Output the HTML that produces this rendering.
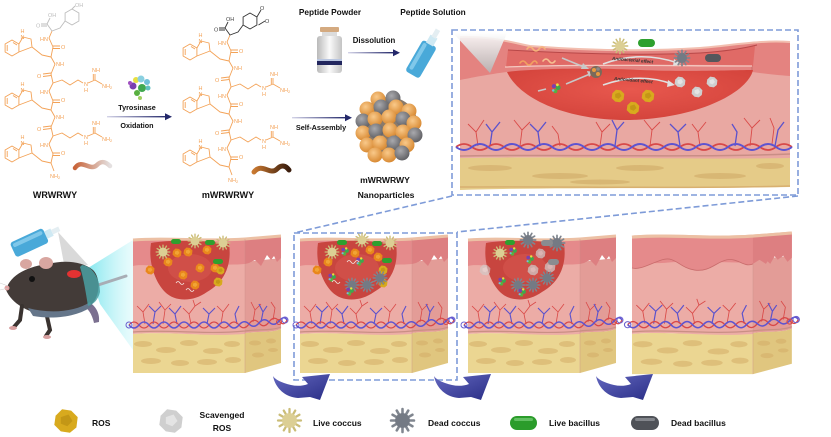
<!DOCTYPE html>
<html><head><meta charset="utf-8">
<style>
html,body{margin:0;padding:0;background:#fff;}
svg{display:block;}
text{font-family:"Liberation Sans",Arial,sans-serif;}
.b{font-weight:bold;fill:#111;}
.o{fill:#f3a257;font-size:5.5px;}
.k{fill:#444;font-size:5.5px;}
.g{fill:#bdbdbd;font-size:5.5px;}
</style></head><body>
<svg width="831" height="437" viewBox="0 0 831 437" xmlns="http://www.w3.org/2000/svg">
<defs>
 <linearGradient id="arr" x1="0" x2="1"><stop offset="0" stop-color="#d4d4e8"/><stop offset="1" stop-color="#23286a"/></linearGradient>
 <radialGradient id="og" cx=".4" cy=".35" r=".7"><stop offset="0" stop-color="#f9c98a"/><stop offset="1" stop-color="#d6852c"/></radialGradient>
 <radialGradient id="gg" cx=".4" cy=".35" r=".7"><stop offset="0" stop-color="#a9a9ad"/><stop offset="1" stop-color="#5c5c60"/></radialGradient>
 <linearGradient id="vial" x1="0" x2="1"><stop offset="0" stop-color="#b9b9b9"/><stop offset=".5" stop-color="#fafafa"/><stop offset="1" stop-color="#c4c4c4"/></linearGradient>
 <linearGradient id="cy" x1="0" x2="1"><stop offset="0" stop-color="#7fe6ee" stop-opacity=".95"/><stop offset="1" stop-color="#d4f8fa" stop-opacity=".5"/></linearGradient>
 <linearGradient id="ba" x1="0" y1="0" x2="1" y2="1"><stop offset="0" stop-color="#6468c0"/><stop offset="1" stop-color="#2a2e86"/></linearGradient>
 <linearGradient id="cone" x1="0" y1="0" x2="0" y2="1"><stop offset="0" stop-color="#ffffff"/><stop offset="1" stop-color="#b4b4b4"/></linearGradient>
 <radialGradient id="wnd" cx=".5" cy=".4" r=".6"><stop offset="0" stop-color="#e8584e"/><stop offset="1" stop-color="#d4443c"/></radialGradient>
 <linearGradient id="w1" x1="0" x2="1"><stop offset="0" stop-color="#c8643a"/><stop offset="1" stop-color="#e4e0e0"/></linearGradient>
 <linearGradient id="w2" x1="0" x2="1"><stop offset="0" stop-color="#c87830"/><stop offset="1" stop-color="#3a1c0c"/></linearGradient>

 <symbol id="lc" viewBox="-10 -10 20 20"><g stroke="#cbbd78" stroke-width="1.7" stroke-linecap="round"><line x1="0" y1="-8.5" x2="0" y2="8.5"/><line x1="4.25" y1="-7.36" x2="-4.25" y2="7.36"/><line x1="7.36" y1="-4.25" x2="-7.36" y2="4.25"/><line x1="8.5" y1="0" x2="-8.5" y2="0"/><line x1="7.36" y1="4.25" x2="-7.36" y2="-4.25"/><line x1="4.25" y1="7.36" x2="-4.25" y2="-7.36"/></g><circle r="5.5" fill="#dccf94"/></symbol>
 <symbol id="dc" viewBox="-10 -10 20 20"><g stroke="#80868f" stroke-width="1.9" stroke-linecap="round"><line x1="0" y1="-8.5" x2="0" y2="8.5"/><line x1="4.25" y1="-7.36" x2="-4.25" y2="7.36"/><line x1="7.36" y1="-4.25" x2="-7.36" y2="4.25"/><line x1="8.5" y1="0" x2="-8.5" y2="0"/><line x1="7.36" y1="4.25" x2="-7.36" y2="-4.25"/><line x1="4.25" y1="7.36" x2="-4.25" y2="-7.36"/></g><circle r="5.5" fill="#747a84"/></symbol>
 <symbol id="ros" viewBox="-10 -10 20 20"><path d="M-8,-4 L-3,-9 L4,-8 L9,-3 L8,5 L3,9 L-4,8 L-9,3 Z" fill="#d8aa1e"/><path d="M-4,-3 L2,-5 L5,0 L1,4 L-4,2 Z" fill="#b58a10" opacity=".6"/></symbol>
 <symbol id="ro" viewBox="-10 -10 20 20"><path d="M-8,-4 L-3,-9 L4,-8 L9,-3 L8,5 L3,9 L-4,8 L-9,3 Z" fill="#e9871c"/><path d="M-4,-3 L2,-5 L5,0 L1,4 L-4,2 Z" fill="#f4b040" opacity=".7"/></symbol>
 <symbol id="sr" viewBox="-10 -10 20 20"><path d="M-8,-4 L-3,-9 L4,-8 L9,-3 L8,5 L3,9 L-4,8 L-9,3 Z" fill="#cfcfcf"/><path d="M-4,-3 L2,-5 L5,0 L1,4 L-4,2 Z" fill="#e8e8e8" opacity=".8"/></symbol>
 <symbol id="ez" viewBox="-10 -10 20 20"><circle cx="-3" cy="-4" r="3" fill="#7a40b0"/><circle cx="3" cy="-2" r="3.5" fill="#3da84e"/><circle cx="-1" cy="3" r="3" fill="#58b040"/><circle cx="2" cy="-6" r="2" fill="#e8e040"/><circle cx="-4" cy="2" r="1.8" fill="#70c0d8"/></symbol>

 <g id="pepl" fill="none" stroke="#f3a257" stroke-width="0.9" stroke-linejoin="round">
  <polyline points="52,31 49,38 53,47 51,57 55,64 51,74 53,83 49,91 53,101 51,110 55,117 51,127 53,136 49,144 53,154 51,163 54,171"/>
  <path d="M53,46 L60,46 M53,48.5 L60,48.5 M51,73 L43,74 M51,75.5 L43,76.5 M53,100 L60,100 M53,102.5 L60,102.5 M51,126 L43,127 M51,128.5 L43,129.5 M53,153 L60,153 M53,155.5 L60,155.5"/>
  <path d="M51,57 L42,55 L32,47 M51,110 L42,108 L32,100 M51,163 L42,161 L32,153"/>
  <path d="M18.9,44 L18.9,52 L12,56 L5.1,52 L5.1,44 L12,40 Z M18.9,44 L23,37 L31,39 L32,47 L18.9,52 M7.2,45 L7.2,51 M13,42.5 L17,45"/>
  <path d="M18.9,97 L18.9,105 L12,109 L5.1,105 L5.1,97 L12,93 Z M18.9,97 L23,90 L31,92 L32,100 L18.9,105 M7.2,98 L7.2,104 M13,95.5 L17,98"/>
  <path d="M18.9,150 L18.9,158 L12,162 L5.1,158 L5.1,150 L12,146 Z M18.9,150 L23,143 L31,145 L32,153 L18.9,158 M7.2,151 L7.2,157 M13,148.5 L17,151"/>
  <path d="M53,83 L62,80 L70,85 L78,80 L83,83 M88,83 L95,80 L95,74 M93.3,80 L93.3,74 M95,80 L102,84"/>
  <path d="M53,136 L62,133 L70,138 L78,133 L83,136 M88,136 L95,133 L95,127 M93.3,133 L93.3,127 M95,133 L102,137"/>
 </g>

 <g id="blk">
  <path d="M0,98 C35,95 70,101 112,97 L112,137 L0,137 Z" fill="#ebd692"/>
  <path d="M112,97 C125,95 138,97 148,93 L148,127 L112,137 Z" fill="#e0c67f"/>
  <g fill="#d4ad68" opacity=".55">
   <ellipse cx="10" cy="108" rx="9" ry="3"/><ellipse cx="33" cy="114" rx="10" ry="3"/><ellipse cx="56" cy="107" rx="9" ry="3"/><ellipse cx="80" cy="115" rx="10" ry="3"/><ellipse cx="99" cy="108" rx="8" ry="3"/><ellipse cx="18" cy="125" rx="10" ry="3"/><ellipse cx="47" cy="127" rx="9" ry="3"/><ellipse cx="74" cy="126" rx="10" ry="3"/><ellipse cx="100" cy="124" rx="8" ry="3"/><ellipse cx="122" cy="107" rx="6" ry="2.5"/><ellipse cx="138" cy="105" rx="5" ry="2.5"/><ellipse cx="125" cy="119" rx="6" ry="2.5"/><ellipse cx="140" cy="114" rx="5" ry="2"/>
  </g>
  <path d="M0,26 L112,26 L112,98 C70,101 35,95 0,98 Z" fill="#ecaca6"/>
  <path d="M112,26 L148,22 L148,93 C138,97 125,95 112,97 Z" fill="#e39c97"/>
  <path d="M0,96 C35,93 70,99 112,95 C125,93 138,95 148,91" fill="none" stroke="#c98f84" stroke-width="1.2"/>
  <path d="M0,4 C35,1 70,6 112,3 L112,28 C90,30 60,26 30,29 C15,30 5,28 0,30 Z" fill="#e58a8b"/>
  <path d="M112,3 L148,0 L148,22 L144,26 L141,20 L138,24 L134,19 L128,30 L122,24 L116,27 L112,28 Z" fill="#dd7f81"/>
  <path d="M0,4 C35,1 70,6 112,3 L148,0" fill="none" stroke="#ecc0a4" stroke-width="3"/>
  <line x1="112" y1="3" x2="112" y2="137" stroke="#c98c88" stroke-width=".6" opacity=".6"/>
  <g fill="none" stroke="#d94a48" stroke-width=".8">
   <path d="M12,88 L10,76 L4,70 M10,76 L16,68 M30,88 L32,74 L26,66 M32,74 L38,68 M58,88 L56,78 L50,72 M56,78 L62,70 L60,64 M62,70 L68,66 M88,88 L90,76 L84,70 M90,76 L96,68 M120,86 L122,74 L118,66 M122,74 L128,68 M140,84 L142,72 L138,66"/>
  </g>
  <g fill="none" stroke="#5b52cc" stroke-width="1.1">
   <path d="M20,88 L22,76 L16,70 M22,76 L28,70 M44,88 L42,78 L48,70 M42,78 L36,72 M74,88 L76,78 L82,72 M76,78 L70,72 M104,88 L102,78 L106,70 M128,86 L130,76 L126,68 M130,76 L134,70"/>
  </g>
  <path d="M-4,89 Q1,83 6,89 T16,89 T26,89 T36,89 T46,89 T56,89 T66,89 T76,89 T86,89 T96,89 T106,89 T116,88 T126,87 T136,86 T146,85 T154,84" fill="none" stroke="#d84848" stroke-width="1.3"/>
  <path d="M-4,89 Q1,95 6,89 T16,89 T26,89 T36,89 T46,89 T56,89 T66,89 T76,89 T86,89 T96,89 T106,89 T116,88 T126,87 T136,86 T146,85 T154,84" fill="none" stroke="#5e54d0" stroke-width="1.5"/>
  <circle cx="-4" cy="89" r="3" fill="none" stroke="#6a5fd0" stroke-width="1"/>
  <circle cx="152" cy="84" r="3" fill="none" stroke="#6a5fd0" stroke-width="1"/>
  <circle cx="146" cy="86" r="2.5" fill="none" stroke="#d84848" stroke-width="1"/>
 </g>

 <path id="wd" d="M18,7 C40,3 80,5 96,8 C99,28 92,46 74,56 C60,66 42,66 32,56 C22,46 15,26 18,7 Z"/>
 <path id="arw" d="M1,3 C3,14 12,24 26,25 L38,24 L48,27 L58,1 L30,4 L36,11 C28,14 20,13 12,10 C6,8 2,5 1,3 Z"/>
</defs>

<!-- ===== chemical structures ===== -->
<g>
 <use href="#pepl"/>
 <path d="M72,9 L78.9,13 L78.9,21 L72,25 L65.1,21 L65.1,13 Z M72,9 L75,6 M65.1,21 L60,28 L52,31 L47,24 L50,18 M47,24 L41,24 M47,26 L41,26" fill="none" stroke="#bdbdbd" stroke-width="0.9"/>
 <text class="g" x="75" y="7">OH</text><text class="g" x="48" y="17">OH</text><text class="g" x="36" y="27.5">O</text>
 <text class="o" x="40" y="41">HN</text><text class="o" x="61" y="49">O</text><text class="o" x="56" y="66">NH</text><text class="o" x="37" y="78">O</text>
 <text class="o" x="84" y="86">N</text><text class="o" x="84" y="92">H</text><text class="o" x="92" y="72">NH</text><text class="o" x="102" y="88">NH<tspan font-size="4" dy="1">2</tspan></text>
 <text class="o" x="40" y="94">HN</text><text class="o" x="61" y="102">O</text><text class="o" x="56" y="119">NH</text><text class="o" x="37" y="131">O</text>
 <text class="o" x="84" y="139">N</text><text class="o" x="84" y="145">H</text><text class="o" x="92" y="125">NH</text><text class="o" x="102" y="141">NH<tspan font-size="4" dy="1">2</tspan></text>
 <text class="o" x="40" y="147">HN</text><text class="o" x="61" y="155">O</text><text class="o" x="50" y="178">NH<tspan font-size="4" dy="1">2</tspan></text>
 <text class="o" x="20.5" y="39">N</text><text class="o" x="20.5" y="33">H</text>
 <text class="o" x="20.5" y="92">N</text><text class="o" x="20.5" y="86">H</text>
 <text class="o" x="20.5" y="145">N</text><text class="o" x="20.5" y="139">H</text>
 <path d="M75,168 C82,158 90,172 97,165 C102,160 106,162 110,166" fill="none" stroke="url(#w1)" stroke-width="4.5" stroke-linecap="round"/>
</g>
<g transform="translate(178,4)">
 <use href="#pepl"/>
 <path d="M72,9 L78.9,13 L78.9,21 L72,25 L65.1,21 L65.1,13 Z M78.9,13 L83,6 M80.5,21 L87,17 M65.1,21 L60,28 L52,31 L47,24 L50,18 M47,24 L41,24 M47,26 L41,26" fill="none" stroke="#333" stroke-width="0.9"/>
 <text class="k" x="82" y="6">O</text><text class="k" x="87" y="19">O</text><text class="k" x="48" y="17">OH</text><text class="k" x="36" y="27.5">O</text>
 <text class="o" x="40" y="41">HN</text><text class="o" x="61" y="49">O</text><text class="o" x="56" y="66">NH</text><text class="o" x="37" y="78">O</text>
 <text class="o" x="84" y="86">N</text><text class="o" x="84" y="92">H</text><text class="o" x="92" y="72">NH</text><text class="o" x="102" y="88">NH<tspan font-size="4" dy="1">2</tspan></text>
 <text class="o" x="40" y="94">HN</text><text class="o" x="61" y="102">O</text><text class="o" x="56" y="119">NH</text><text class="o" x="37" y="131">O</text>
 <text class="o" x="84" y="139">N</text><text class="o" x="84" y="145">H</text><text class="o" x="92" y="125">NH</text><text class="o" x="102" y="141">NH<tspan font-size="4" dy="1">2</tspan></text>
 <text class="o" x="40" y="147">HN</text><text class="o" x="61" y="155">O</text><text class="o" x="50" y="178">NH<tspan font-size="4" dy="1">2</tspan></text>
 <text class="o" x="20.5" y="39">N</text><text class="o" x="20.5" y="33">H</text>
 <text class="o" x="20.5" y="92">N</text><text class="o" x="20.5" y="86">H</text>
 <text class="o" x="20.5" y="145">N</text><text class="o" x="20.5" y="139">H</text>
 <path d="M76,168 C84,158 92,172 99,165 C104,160 108,162 111,166" fill="none" stroke="url(#w2)" stroke-width="5" stroke-linecap="round"/>
</g>
<text class="b" x="55" y="198" font-size="9" text-anchor="middle">WRWRWY</text>
<text class="b" x="228" y="198" font-size="9" text-anchor="middle">mWRWRWY</text>

<!-- enzyme + oxidation arrow -->
<g>
 <circle cx="136" cy="80" r="3" fill="#e8e040"/><circle cx="141" cy="79" r="3.5" fill="#8ad0e0"/><circle cx="147" cy="82" r="3" fill="#70c0d8"/><circle cx="133" cy="86" r="3.5" fill="#7a40b0"/><circle cx="142" cy="88" r="4" fill="#40a850"/><circle cx="148" cy="88" r="2.5" fill="#60c0c0"/><circle cx="137" cy="93" r="3" fill="#58b040"/><circle cx="140" cy="98" r="2" fill="#a0d060"/><circle cx="130" cy="83" r="2" fill="#a050c0"/>
</g>
<text class="b" x="137" y="110" font-size="7.2" text-anchor="middle">Tyrosinase</text>
<text class="b" x="137" y="128" font-size="7.2" text-anchor="middle">Oxidation</text>
<rect x="107" y="116" width="60" height="1.4" fill="url(#arr)"/><path d="M165,113.2 L172,116.7 L165,120.2 Z" fill="#23286a"/>

<!-- powder / solution -->
<text class="b" x="330" y="15" font-size="8.3" text-anchor="middle">Peptide Powder</text>
<text class="b" x="433" y="15" font-size="8.3" text-anchor="middle">Peptide Solution</text>
<rect x="320" y="27" width="19" height="5" rx="1" fill="#d4aa80"/>
<rect x="322" y="32" width="15" height="4" fill="#dcdcdc"/>
<rect x="317" y="36" width="25" height="37" rx="3" fill="url(#vial)"/>
<rect x="317" y="59" width="25" height="2" fill="#b9c6e0"/>
<rect x="317" y="61" width="25" height="4" fill="#22265e"/>
<text class="b" x="374" y="43" font-size="7.8" text-anchor="middle">Dissolution</text>
<rect x="348" y="52" width="46" height="1.4" fill="url(#arr)"/><path d="M393,49.2 L400,52.7 L393,56.2 Z" fill="#23286a"/>
<g transform="translate(424,54) rotate(30)">
 <rect x="-8" y="-12" width="16" height="36" rx="3" fill="#49a9d9"/>
 <rect x="-6" y="-10" width="4" height="30" rx="2" fill="#8fd0ee" opacity=".8"/>
 <rect x="-4" y="-20" width="8" height="9" fill="#cfe9f3"/>
 <rect x="-2.5" y="-28" width="5" height="9" fill="#e4eef2"/>
</g>

<!-- nanoparticle -->
<text class="b" x="321" y="130" font-size="7.3" text-anchor="middle">Self-Assembly</text>
<rect x="292" y="117" width="54" height="1.4" fill="url(#arr)"/><path d="M345,114.2 L352,117.7 L345,121.2 Z" fill="#23286a"/>
<g>
 <circle cx="389" cy="126" r="29" fill="#8a7a6a"/>
 <circle cx="378" cy="99" r="7.5" fill="url(#og)"/><circle cx="393" cy="98" r="7.5" fill="url(#gg)"/>
 <circle cx="367" cy="109" r="7.5" fill="url(#og)"/><circle cx="381" cy="107" r="7.5" fill="url(#gg)"/><circle cx="396" cy="107" r="7.5" fill="url(#og)"/><circle cx="409" cy="111" r="7.5" fill="url(#og)"/>
 <circle cx="363" cy="121" r="7.5" fill="url(#gg)"/><circle cx="375" cy="119" r="7.5" fill="url(#og)"/><circle cx="389" cy="117" r="7.5" fill="url(#og)"/><circle cx="403" cy="119" r="7.5" fill="url(#gg)"/><circle cx="414" cy="123" r="7.5" fill="url(#og)"/>
 <circle cx="363" cy="133" r="7.5" fill="url(#og)"/><circle cx="376" cy="131" r="7.5" fill="url(#gg)"/><circle cx="390" cy="130" r="7.5" fill="url(#og)"/><circle cx="403" cy="132" r="7.5" fill="url(#og)"/><circle cx="415" cy="135" r="7.5" fill="url(#gg)"/>
 <circle cx="367" cy="145" r="7.5" fill="url(#og)"/><circle cx="380" cy="143" r="7.5" fill="url(#og)"/><circle cx="394" cy="143" r="7.5" fill="url(#gg)"/><circle cx="407" cy="145" r="7.5" fill="url(#og)"/>
 <circle cx="375" cy="155" r="7.5" fill="url(#og)"/><circle cx="389" cy="155" r="7.5" fill="url(#og)"/><circle cx="402" cy="153" r="7.5" fill="url(#gg)"/>
</g>
<text class="b" x="385" y="183" font-size="8.6" text-anchor="middle">mWRWRWY</text>
<text class="b" x="386" y="198" font-size="8.6" text-anchor="middle">Nanoparticles</text>

<!-- ===== top panel skin ===== -->
<g>
 <path d="M460,158 C560,156 680,160 790,156 L790,187 C680,189 560,187 460,190 Z" fill="#e5cb88"/>
 <g fill="#cda462" opacity=".5"><ellipse cx="490" cy="168" rx="22" ry="3"/><ellipse cx="560" cy="176" rx="28" ry="3"/><ellipse cx="640" cy="168" rx="24" ry="3"/><ellipse cx="720" cy="176" rx="26" ry="3"/><ellipse cx="770" cy="166" rx="14" ry="3"/><ellipse cx="600" cy="182" rx="30" ry="2.5"/></g>
 <path d="M460,187 C560,186 680,189 790,186" stroke="#d8b070" stroke-width="1.5" fill="none"/>
 <path d="M460,70 L790,70 L790,158 C680,160 560,156 460,158 Z" fill="#e9a8a2"/>
 <path d="M460,156 C560,154 680,158 790,154" stroke="#c98e86" stroke-width="1.5" fill="none"/>
 <path d="M460,37 C490,36 510,42 530,46 C580,50 640,52 700,48 C735,45 760,40 790,42 L790,76 C775,75 760,73 752,72 L507,72 C490,74 470,78 460,80 Z" fill="#e48380"/>
 <path d="M752,46 L752,72" stroke="#c96c68" stroke-width="1"/>
 <path d="M507,72 C540,68 600,68 640,70 C690,72 730,70 753,70 C748,92 700,118 630,120 C570,121 520,100 507,72 Z" fill="url(#wnd)"/>
 <path d="M508,50 C560,53 640,56 700,53 C730,51 745,48 755,46 L753,66 C700,64 600,64 506,67 Z" fill="#e06a66"/>
 <path d="M508,50 C560,53 640,56 700,53 C730,51 745,48 757,45" stroke="#b84848" stroke-width="1" fill="none"/>
 <path d="M505,67 C580,64 680,66 752,66" stroke="#f5c8c0" stroke-width="1.3" fill="none"/>
 <path d="M460,37 C490,36 510,42 530,46 C580,50 640,52 700,48 C735,45 760,40 790,42" stroke="#f2bfb0" stroke-width="2" fill="none"/>
 <path d="M453,33 L507,33 L490,73 Z" fill="url(#cone)" opacity=".9"/>
 <g fill="none" stroke="#d94a48" stroke-width=".9">
  <path d="M478,146 L476,132 L468,124 M476,132 L484,120 M520,146 L522,130 L514,120 M522,130 L530,122 M560,146 L558,134 L552,126 M600,146 L602,132 L596,122 M602,132 L610,124 M650,146 L652,130 L644,120 M652,130 L660,122 M700,146 L698,132 L692,124 M698,132 L706,122 M750,146 L752,128 L744,118 M752,128 L760,120 M772,144 L774,128 L770,118"/>
 </g>
 <g fill="none" stroke="#5b52cc" stroke-width="1.3">
  <path d="M490,146 L492,132 L486,124 M492,132 L500,122 M540,146 L538,132 L546,122 M538,132 L530,124 M615,146 L617,130 L612,120 M617,130 L624,122 M680,146 L678,132 L686,124 M678,132 L670,124 M735,146 L737,132 L732,124 M775,146 L778,130 L784,122"/>
 </g>
 <path d="M456,147 Q464,141 472,147 T488,147 T504,147 T520,147 T536,147 T552,147 T568,147 T584,147 T600,147 T616,147 T632,147 T648,147 T664,147 T680,147 T696,147 T712,147 T728,147 T744,147 T760,147 T776,147 T792,147" fill="none" stroke="#d84848" stroke-width="1.8"/>
 <path d="M456,147 Q464,153 472,147 T488,147 T504,147 T520,147 T536,147 T552,147 T568,147 T584,147 T600,147 T616,147 T632,147 T648,147 T664,147 T680,147 T696,147 T712,147 T728,147 T744,147 T760,147 T776,147 T792,147" fill="none" stroke="#5e54d0" stroke-width="2"/>
 <!-- panel items -->
 <g fill="none" stroke-width="1.6" stroke-linecap="round">
  <path d="M527,49 q3,-4 6,0 t6,0 t6,0" stroke="#f6b37a"/>
  <path d="M520,63 q3,-4 6,0 t6,0 t5,0" stroke="#f2a060"/>
  <path d="M543,61 q3,-4 6,0 t6,0" stroke="#f6c090"/>
 </g>
 <path d="M562,58 L584,67" stroke="#c8c8c8" stroke-width="1.5"/><path d="M583,63 L589,69 L581,69 Z" fill="#c8c8c8"/>
 <path d="M566,84 L590,74" stroke="#c8c8c8" stroke-width="1.5"/><path d="M587,71 L594,72 L589,77 Z" fill="#c8c8c8"/>
 <path d="M538,91 L546,89" stroke="#c8c8c8" stroke-width="1.5"/>
 <circle cx="596" cy="72" r="6" fill="#7a6a5a"/><circle cx="594" cy="70" r="2" fill="#e89a40"/><circle cx="598" cy="74" r="2" fill="#e89a40"/><circle cx="598" cy="69" r="1.8" fill="#888"/>
 <use href="#ez" x="549" y="82" width="14" height="14"/>
 <path d="M603,64 Q640,50 678,63" fill="none" stroke="#e0e0e0" stroke-width="1.6"/><path d="M674,59 L681,64 L673,66 Z" fill="#e0e0e0"/>
 <path d="M603,85 Q640,72 672,84" fill="none" stroke="#e0e0e0" stroke-width="1.6"/><path d="M668,80 L675,85 L667,87 Z" fill="#e0e0e0"/>
 <text x="612" y="62" font-size="4.6" font-weight="bold" font-style="italic" fill="#333" transform="rotate(5 637 60)">Antibacterial effect</text>
 <text x="614" y="82" font-size="4.6" font-weight="bold" font-style="italic" fill="#333" transform="rotate(5 637 80)">Antioxidant effect</text>
 <use href="#lc" x="611" y="37" width="18" height="18"/>
 <rect x="638" y="39" width="17" height="8" rx="4" fill="#2ea02e"/>
 <use href="#dc" x="673" y="49" width="18" height="18"/>
 <rect x="705" y="54" width="16" height="8" rx="4" fill="#55575c"/>
 <use href="#ros" x="611" y="89" width="14" height="14"/><use href="#ros" x="641" y="89" width="14" height="14"/><use href="#ros" x="626" y="101" width="14" height="14"/>
 <use href="#sr" x="674" y="76" width="12" height="12"/><use href="#sr" x="706" y="76" width="12" height="12"/><use href="#sr" x="691" y="86" width="12" height="12"/>
</g>
<!-- dashed zoom box -->
<g fill="none" stroke="#7e9bd8" stroke-width="1.6" stroke-dasharray="6 3">
 <rect x="452" y="30" width="346" height="165"/>
 <path d="M452,196 L294,233"/>
 <path d="M798,196 L457,232"/>
 <rect x="294" y="233" width="163" height="147"/>
</g>

<!-- ===== mouse ===== -->
<path d="M88,268 L133,240 L133,350 L100,304 Z" fill="url(#cy)"/>
<path d="M58,232 L64,264 L88,265 Z" fill="#d2d2d2" opacity=".85"/>
<g>
 <path d="M92,287 L126,276" stroke="#a8adb5" stroke-width="3" stroke-linecap="round"/>
 <path d="M86,300 C95,305 100,312 99,322 L94,323 C92,314 88,308 82,305 Z" fill="#7b7090"/>
 <path d="M46,312 L50,330 L46,336" stroke="#3a3330" stroke-width="4" fill="none" stroke-linecap="round"/>
 <ellipse cx="47" cy="337" rx="4" ry="2" fill="#d8a0a0"/>
 <path d="M6,290 C10,274 30,266 48,264 C64,260 82,261 93,270 C101,278 100,296 92,304 C82,312 60,316 42,314 C28,312 12,304 6,290 Z" fill="#433b38"/>
 <path d="M28,308 C50,314 75,312 90,302 L92,306 C80,316 55,320 33,316 Z" fill="#65768a"/>
 <path d="M82,265 C92,266 100,278 100,292 C98,300 94,304 88,306 C86,294 84,280 80,267 Z" fill="#4aa0a2" opacity=".85"/>
 <ellipse cx="74" cy="274" rx="7" ry="4" fill="#e23232"/>
 <ellipse cx="26" cy="264" rx="6" ry="5" fill="#d8a6a0"/>
 <ellipse cx="46" cy="263" rx="7" ry="6" fill="#d8a6a0"/>
 <circle cx="32" cy="279" r="3" fill="#111"/>
 <circle cx="7" cy="288" r="2.5" fill="#e0a0a0"/>
 <path d="M22,306 L20,320 L14,327" stroke="#3a3330" stroke-width="4" fill="none" stroke-linecap="round"/>
 <ellipse cx="13" cy="328" rx="4" ry="2" fill="#d8a0a0"/>
 <path d="M8,286 L0,283 M8,288 L0,290" stroke="#ccc" stroke-width=".5"/>
</g>
<g transform="translate(33,241) rotate(-25)">
 <rect x="-22" y="-8" width="36" height="16" rx="3" fill="#49a9d9"/>
 <rect x="-20" y="-6" width="32" height="4" rx="2" fill="#8fd0ee" opacity=".8"/>
 <rect x="14" y="-4" width="7" height="8" fill="#cfe9f3"/>
 <rect x="21" y="-2.5" width="8" height="5" fill="#e4eef2"/>
</g>

<!-- ===== skin blocks ===== -->
<use href="#blk" transform="translate(133,236)"/>
<use href="#blk" transform="translate(300,236)"/>
<use href="#blk" transform="translate(468,236)"/>
<g transform="translate(632,233) scale(1.08,1.03)">
 <use href="#blk"/>
 <path d="M0,4 C35,1 70,6 112,3 L112,30 C104,34 98,24 88,26 C78,28 72,38 58,36 C44,34 40,22 28,26 C16,30 8,36 0,34 Z" fill="#e58a8b"/>
 <path d="M112,3 L148,0 L148,24 L144,28 L140,22 L135,26 L130,20 L124,30 L118,26 L112,30 Z" fill="#dd7f81"/>
 <path d="M0,34 C8,36 16,30 28,26 C40,22 44,34 58,36 C72,38 78,28 88,26 C98,24 104,34 112,30" fill="none" stroke="#c96c6c" stroke-width=".8"/>
 <path d="M0,4 C35,1 70,6 112,3 L148,0" fill="none" stroke="#ecc0a4" stroke-width="3"/>
</g>
<!-- wounds -->
<use href="#wd" transform="translate(133,236)" fill="#c8453f"/>
<use href="#wd" transform="translate(300,236)" fill="#c8453f"/>
<use href="#wd" transform="translate(468,236)" fill="#c8453f"/>
<g opacity=".35" fill="#e06058"><ellipse cx="190" cy="268" rx="22" ry="14"/><ellipse cx="357" cy="268" rx="22" ry="14"/><ellipse cx="525" cy="268" rx="22" ry="14"/></g>

<!-- block 1 items -->
<use href="#ro" x="183" y="247" width="10" height="10"/><use href="#ro" x="202" y="245" width="10" height="10"/><use href="#ro" x="145" y="265" width="10" height="10"/><use href="#ro" x="163" y="257" width="10" height="10"/><use href="#ro" x="178" y="270" width="10" height="10"/><use href="#ro" x="195" y="263" width="10" height="10"/><use href="#ro" x="210" y="263" width="10" height="10"/><use href="#ro" x="190" y="280" width="10" height="10"/><use href="#ro" x="172" y="248" width="10" height="10"/>
<use href="#ros" x="213" y="277" width="10" height="10"/><use href="#ros" x="216" y="266" width="9" height="9"/>
<use href="#lc" x="155" y="244" width="16" height="16"/><use href="#lc" x="187" y="233" width="16" height="16"/><use href="#lc" x="215" y="235" width="16" height="16"/>
<rect x="171" y="239" width="10" height="5" rx="2.5" fill="#2ea02e"/><rect x="205" y="240" width="10" height="5" rx="2.5" fill="#2ea02e"/><rect x="213" y="259" width="10" height="5" rx="2.5" fill="#2ea02e"/>
<path d="M176,283 q2,-3 4,0 t4,0 M186,290 q2,-3 4,0 t4,0" stroke="#f3e6e0" stroke-width=".8" fill="none"/>

<!-- block 2 items -->
<use href="#ro" x="312" y="265" width="10" height="10"/><use href="#ro" x="323" y="257" width="10" height="10"/><use href="#ro" x="350" y="248" width="10" height="10"/><use href="#ro" x="365" y="245" width="10" height="10"/><use href="#ro" x="373" y="252" width="10" height="10"/>
<use href="#ros" x="378" y="265" width="10" height="10"/><use href="#ros" x="378" y="278" width="10" height="10"/>
<use href="#dc" x="344" y="277" width="16" height="16"/><use href="#dc" x="359" y="277" width="16" height="16"/><use href="#dc" x="372" y="270" width="16" height="16"/>
<use href="#ez" x="339" y="246" width="12" height="12"/><use href="#ez" x="354" y="256" width="12" height="12"/><use href="#ez" x="326" y="272" width="12" height="12"/><use href="#ez" x="344" y="286" width="12" height="12"/>
<use href="#lc" x="324" y="244" width="16" height="16"/><use href="#lc" x="354" y="232" width="16" height="16"/><use href="#lc" x="382" y="235" width="16" height="16"/>
<rect x="337" y="240" width="10" height="5" rx="2.5" fill="#2ea02e"/><rect x="372" y="241" width="10" height="5" rx="2.5" fill="#2ea02e"/><rect x="382" y="258" width="10" height="5" rx="2.5" fill="#2ea02e"/>
<path d="M347,262 q2,-3 4,0 t4,0 t4,0 M332,282 q2,-3 4,0 t4,0" stroke="#f3e6e0" stroke-width=".8" fill="none"/>

<!-- block 3 items -->
<use href="#sr" x="479" y="264" width="12" height="12" opacity=".6"/><use href="#sr" x="527" y="264" width="12" height="12" opacity=".7"/><use href="#sr" x="544" y="261" width="12" height="12" opacity=".7"/><use href="#sr" x="535" y="248" width="11" height="11" opacity=".7"/>
<use href="#dc" x="510" y="277" width="16" height="16"/><use href="#dc" x="525" y="277" width="16" height="16"/><use href="#dc" x="539" y="270" width="16" height="16"/>
<use href="#ez" x="507" y="246" width="12" height="12"/><use href="#ez" x="524" y="254" width="12" height="12"/><use href="#ez" x="496" y="276" width="12" height="12"/><use href="#ez" x="516" y="287" width="12" height="12"/>
<use href="#lc" x="492" y="245" width="16" height="16"/><use href="#dc" x="519" y="231" width="18" height="18"/><use href="#dc" x="548" y="234" width="18" height="18"/>
<rect x="505" y="240" width="10" height="5" rx="2.5" fill="#2ea02e"/><rect x="541" y="240" width="12" height="6" rx="3" fill="#8a8c90"/><rect x="548" y="259" width="11" height="6" rx="3" fill="#8a8c90"/>

<!-- curved arrows -->
<use href="#arw" transform="translate(272,373)" fill="url(#ba)"/>
<use href="#arw" transform="translate(433,373)" fill="url(#ba)"/>
<use href="#arw" transform="translate(595,373)" fill="url(#ba)"/>

<!-- ===== legend ===== -->
<use href="#ros" x="53" y="408" width="26" height="26"/>
<text class="b" x="92" y="426" font-size="8.5">ROS</text>
<use href="#sr" x="158" y="408" width="26" height="26"/>
<text class="b" x="222" y="418" font-size="8.5" text-anchor="middle">Scavenged</text>
<text class="b" x="222" y="431" font-size="8.5" text-anchor="middle">ROS</text>
<use href="#lc" x="276" y="407" width="27" height="27"/>
<text class="b" x="313" y="426" font-size="8.5">Live coccus</text>
<use href="#dc" x="389" y="407" width="27" height="27"/>
<text class="b" x="428" y="426" font-size="8.5">Dead coccus</text>
<rect x="510" y="416" width="27" height="14" rx="7" fill="#2b9c2b"/><rect x="514" y="418" width="19" height="3" rx="1.5" fill="#7ad07a" opacity=".7"/>
<text class="b" x="549" y="426" font-size="8.5">Live bacillus</text>
<rect x="631" y="416" width="28" height="14" rx="7" fill="#4f5258"/><rect x="635" y="418" width="20" height="3" rx="1.5" fill="#9a9ca2" opacity=".7"/>
<text class="b" x="671" y="426" font-size="8.5">Dead bacillus</text>
</svg>
</body></html>
